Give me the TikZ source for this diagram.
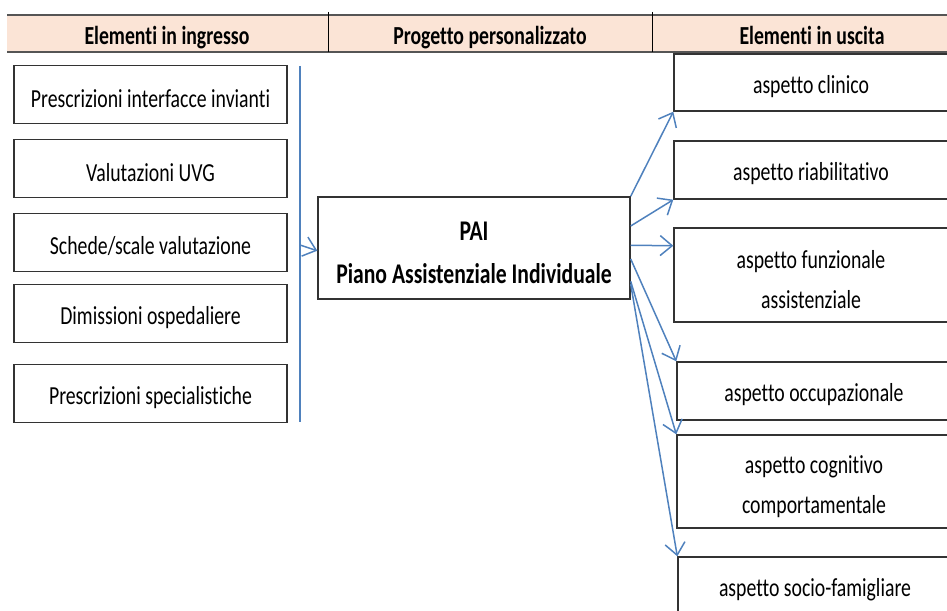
\documentclass[tikz,border=0pt]{standalone}
\usepackage{fontspec}
\setmainfont{Carlito}[FakeStretch=0.76,Ligatures=NoCommon]
\usepackage{tikz}
\usetikzlibrary{arrows.meta,shapes}
\definecolor{headfill}{RGB}{251,228,214}
\definecolor{headline}{RGB}{85,85,85}
\definecolor{linkblue}{RGB}{79,129,189}
\newcommand{\boxstrut}{\rule{0pt}{28pt}}
\tikzstyle{head text}=[anchor=base,font=\fontsize{26}{30}\selectfont\bfseries]
\tikzstyle{in box}=[draw=black!80,line width=1.4pt,minimum width=273pt,minimum height=58pt,inner sep=0pt,font=\fontsize{26}{40}\selectfont,execute at begin node=\rule{0pt}{26pt}]
\tikzstyle{out box}=[in box,minimum width=274pt,align=center]
\tikzstyle{pai box}=[in box,minimum width=312pt,minimum height=102pt,align=center,font=\fontsize{28.5}{43}\selectfont\bfseries]
\tikzstyle{link}=[draw=linkblue,line width=1.5pt,-{Straight Barb[length=12pt,width=20pt]}]

\begin{document}
\begin{tikzpicture}[x=1pt,y=-1pt]
    \useasboundingbox (0,0) rectangle (947,610);
    % Draw the header band
    \fill[headfill] (7,15) rectangle (947,52);
    \draw[headline,line width=2.5pt] (7,15) -- (947,15) (7,52) -- (947,52);
    \draw[black,line width=0.8pt] (328,12) -- (328,52) (652,12) -- (652,52);
    \node[head text] (h_in) at (167,45) {Elementi in ingresso};
    \node[head text] (h_pai) at (490,45) {Progetto personalizzato};
    \node[head text] (h_out) at (812,45) {Elementi in uscita};

    % First we draw the input boxes
    \foreach \pos/\name/\txt in {{(150.5,94.5)/in_1/Prescrizioni interfacce invianti}, {(150.5,168.5)/in_2/Valutazioni UVG}, {(150.5,242.5)/in_3/{Schede/scale valutazione}}, {(150.5,313.5)/in_4/Dimissioni ospedaliere}, {(150.5,393.5)/in_5/Prescrizioni specialistiche}}
        \node[in box] (\name) at \pos {\txt};

    % The plan in the middle
    \node[pai box] (pai) at (474,248) {\boxstrut PAI\\Piano Assistenziale Individuale};

    % Then the output boxes
    \foreach \pos/\name/\txt/\h in {{(811,82.5)/clinico/aspetto clinico/57}, {(811,170)/riab/aspetto riabilitativo/58}, {(811,275)/funz/{\boxstrut aspetto funzionale\\assistenziale}/94}, {(814,391)/occ/aspetto occupazionale/58}, {(814,481.5)/cogn/{\boxstrut aspetto cognitivo\\comportamentale}/93}, {(815,586)/socio/aspetto socio-famigliare/58}}
        \node[out box,minimum height=\h pt] (\name) at \pos {\txt};

    % Collect the inputs
    \coordinate (bar_top) at (300,66);
    \coordinate (bar_end) at (300,422);
    \coordinate (bar_mid) at (300,245);
    \draw[linkblue,line width=1.2pt] (bar_top) -- (bar_end);
    \path[link] (bar_mid) -- (pai.181);

    % Connect the plan with the outputs
    \path[link] (pai.north east) -- (clinico.south west);
    \foreach \source/\dest in {pai.8/riab.south west, pai.1/funz.168, pai.-4/occ.north west, pai.-12/cogn.north west, pai.-13/socio.north west}
        \path[link] (\source) -- (\dest);
\end{tikzpicture}
\end{document}
